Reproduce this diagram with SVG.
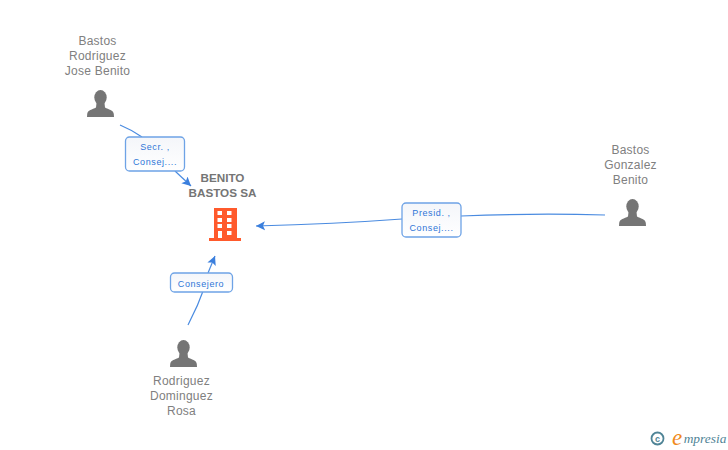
<svg xmlns="http://www.w3.org/2000/svg" width="728" height="450" viewBox="0 0 728 450">
<defs>
<marker id="arrow" markerUnits="userSpaceOnUse" markerWidth="10" markerHeight="10" refX="9" refY="5" orient="auto"><path d="M0 0.5L9 5L0 9.500L2 5Z" fill="#3b7fdd"/></marker>
<g id="person"><ellipse cx="0" cy="-19.500" rx="6.200" ry="7.500" fill="#757575"/><path d="M-4-14L4-14L4.500-9.500C8-7.500 13-7 13.300-3L13.500 0L-13.500 0L-13.300-3C-13-7 -8-7.500 -4.500-9.500Z" fill="#757575"/></g>
<linearGradient id="lab" x1="0" y1="0" x2="0" y2="1"><stop offset="0" stop-color="#f4f6fa"/><stop offset="1" stop-color="#ffffff"/></linearGradient>
</defs>
<style>
text{font-family:"Liberation Sans",Arial,sans-serif;text-anchor:middle}
.n{font-size:12px;fill:#808080;letter-spacing:.25px}
.b{font-size:11.700px;font-weight:bold;fill:#757575}
.l{font-size:9px;fill:#2f76d8;letter-spacing:.6px}
.c{fill:none;stroke:#4a8be0;stroke-width:1.2}
.box{fill:url(#lab);stroke:#6ea3e6;stroke-width:1.3}
</style>
<rect width="728" height="450" fill="#ffffff"/>
<g id="connectors">
<path class="c" d="M120 125Q132 130 142 137"/>
<path class="c" d="M175 171L191 186" marker-end="url(#arrow)"/>
<path class="c" d="M188 325Q198 306 205 286"/>
<path class="c" d="M208 273L215 256" marker-end="url(#arrow)"/>
<path class="c" d="M605 215Q535 213 461 216"/>
<path class="c" d="M402 219Q335 224 256 226" marker-end="url(#arrow)"/>
</g>
<g id="node-company">
<text class="b" x="222.500" y="182">BENITO</text>
<text class="b" x="222.500" y="197">BASTOS SA</text>
<path fill="#ff5a2c" fill-rule="evenodd" d="M214 208H237V238H241V241H209V238H214ZM217.500 211V215H222V211ZM227 211V215H231.500V211ZM217.500 218V222H222V218ZM227 218V222H231.500V218ZM217.500 224V228H222V224ZM227 224V228H231.500V224ZM218 231V238H222V231ZM227 231V235H231.500V231Z"/>
</g>
<g id="node-jose">
<text class="n" x="97.500" y="45">Bastos</text>
<text class="n" x="97.500" y="60">Rodriguez</text>
<text class="n" x="97.500" y="75">Jose Benito</text>
<use href="#person" x="100.500" y="117"/>
</g>
<g id="node-benito">
<text class="n" x="630.500" y="154">Bastos</text>
<text class="n" x="630.500" y="169">Gonzalez</text>
<text class="n" x="630.500" y="184">Benito</text>
<use href="#person" x="632.500" y="226"/>
</g>
<g id="node-rosa">
<use href="#person" x="183.500" y="367"/>
<text class="n" x="181.500" y="385">Rodriguez</text>
<text class="n" x="181.500" y="400">Dominguez</text>
<text class="n" x="181.500" y="415">Rosa</text>
</g>
<g id="label-secr">
<rect class="box" x="125.500" y="137" width="59" height="34" rx="4"/>
<text class="l" x="155" y="150">Secr. ,</text>
<text class="l" x="155" y="165">Consej....</text>
</g>
<g id="label-presid">
<rect class="box" x="402" y="203" width="59" height="34" rx="4"/>
<text class="l" x="431.500" y="216">Presid. ,</text>
<text class="l" x="431.500" y="231">Consej....</text>
</g>
<g id="label-consejero">
<rect class="box" x="170.500" y="273" width="62" height="19" rx="4"/>
<text class="l" x="201" y="286.500">Consejero</text>
</g>
<g id="watermark">
<circle cx="657.500" cy="438.500" r="6" fill="none" stroke="#4f8496" stroke-width="1.800"/>
<text x="657.500" y="441.500" style="font-size:9px;font-weight:bold;fill:#4f8496">c</text>
<text x="677" y="445" style="font-family:'Liberation Serif',serif;font-style:italic;font-size:23px;fill:#f08a1c">e</text>
<text x="705" y="443" style="font-family:'Liberation Serif',serif;font-style:italic;font-size:13.400px;fill:#4f8496">mpresia</text>
</g>
</svg>
